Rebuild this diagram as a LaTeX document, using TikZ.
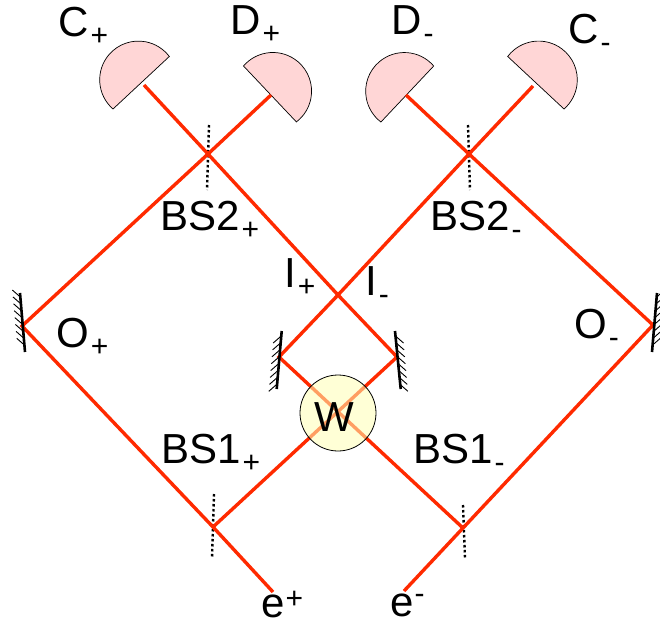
\documentclass[tikz,border=0pt]{standalone}
\usepackage{fontspec}
\setmainfont{Liberation Sans}
\definecolor{beam}{RGB}{255,42,0}
\definecolor{detfill}{RGB}{255,214,214}
\definecolor{wfill}{RGB}{255,255,180}
\tikzset{
  beamline/.style={draw=beam,line width=3.4pt,line join=miter},
  splitter/.style={draw=black,line width=2.4pt,dash pattern=on 2.5pt off 2.5pt},
  mirrorbar/.style={draw=black,line width=2.6pt},
  hatchline/.style={draw=black,line width=0.9pt},
  detector/.style={draw=black,line width=0.7pt,fill=detfill},
  vertexdisc/.style={draw=black,line width=0.8pt,fill=wfill,fill opacity=0.55,draw opacity=1},
  labeltext/.style={inner sep=0pt,anchor=base west,font=\fontsize{42}{42}\selectfont},
}
\newcommand{\sbs}[1]{\kern1.5pt\raisebox{-9pt}{\fontsize{30}{30}\selectfont #1}}
\newcommand{\sps}[2]{\kern0.5pt\raisebox{#2}{\fontsize{30}{30}\selectfont #1}}
\begin{document}
\begin{tikzpicture}[x=1pt,y=-1pt]
\useasboundingbox (0,0) rectangle (660,626);
% points
\coordinate (ep) at (273,592);
\coordinate (em) at (404,591);
\coordinate (bsap) at (213,527);
\coordinate (bsam) at (463,528);
\coordinate (op) at (22,326);
\coordinate (om) at (653,325);
\coordinate (bsbp) at (208,154);
\coordinate (bsbm) at (469,154);
\coordinate (ip) at (279,357);
\coordinate (im) at (397,357);
\coordinate (cross) at (338,295);
\coordinate (cpe) at (144,85);
\coordinate (dpe) at (271,95);
\coordinate (dme) at (406,95);
\coordinate (cme) at (533,86);
% detectors
\draw[detector] (113,109) arc[start angle=229,end angle=37,radius=38.7pt] -- cycle;
\draw[detector] (243.5,66) arc[start angle=139.4,end angle=-52.6,radius=38.7pt] -- cycle;
\draw[detector] (433.7,66) arc[start angle=40.7,end angle=232.7,radius=38.7pt] -- cycle;
\draw[detector] (507.7,56.5) arc[start angle=143,end angle=-49,radius=38.7pt] -- cycle;
% splitters
\draw[splitter] (209,125) -- (207,190);
\draw[splitter] (468,125) -- (470,190);
\draw[splitter] (214,494) -- (212,558);
\draw[splitter] (463,505) -- (465,558);
% beams
\draw[beamline] (ep) -- (bsap) -- (op) -- (bsbp) -- (dpe);
\draw[beamline] (bsap) -- (im) -- (cross) -- (bsbp) -- (cpe);
\draw[beamline] (em) -- (bsam) -- (om) -- (bsbm) -- (dme);
\draw[beamline] (bsam) -- (ip) -- (cross) -- (bsbm) -- (cme);
% mirrors
\draw[mirrorbar] (20,293) -- (25,352);
\draw[mirrorbar] (657,293) -- (652,352);
\draw[mirrorbar] (281.7,331) -- (276.7,389);
\draw[mirrorbar] (395,331) -- (400.7,389);
\foreach \t in {0,...,7}{
  \draw[hatchline] ({20.3+0.63*\t},{297+6.9*\t}) -- ++(-8,-7);
  \draw[hatchline] ({656.7-0.63*\t},{297+6.9*\t}) -- ++(8,-7);
  \draw[hatchline] ({281.2-0.63*\t},{336+6.9*\t}) -- ++(-8,7);
  \draw[hatchline] ({395.5+0.63*\t},{336+6.9*\t}) -- ++(8,7);
}
% vertex
\node[vertexdisc,circle,minimum size=76pt,inner sep=0pt] (w) at (338,413) {};
% labels
\node[labeltext] (lcp) at (58.5,37) {C\sbs{+}};
\node[labeltext] (ldp) at (230.5,35) {D\sbs{+}};
\node[labeltext] (ldm) at (391.5,35) {D\sbs{-}};
\node[labeltext] (lcm) at (568.5,44) {C\sbs{-}};
\node[labeltext] (lbbp) at (160.5,230) {BS2\sbs{+}};
\node[labeltext] (lbbm) at (430.5,230) {BS2\sbs{-}};
\node[labeltext] (lip) at (284.5,287) {I\sbs{+}};
\node[labeltext] (lim) at (365.5,295) {I\sbs{-}};
\node[labeltext] (lop) at (56.5,347) {O\sbs{+}};
\node[labeltext] (lom) at (574.5,338) {O\sbs{-}};
\node[labeltext] (lw) at (314,431) {W};
\node[labeltext] (lbap) at (161.5,463) {BS1\sbs{+}};
\node[labeltext] (lbam) at (413.5,463) {BS1\sbs{-}};
\node[labeltext] (lep) at (261.5,617) {e\sps{+}{9pt}};
\node[labeltext] (lem) at (390.5,616) {e\sps{-}{12.5pt}};
\end{tikzpicture}
\end{document}
